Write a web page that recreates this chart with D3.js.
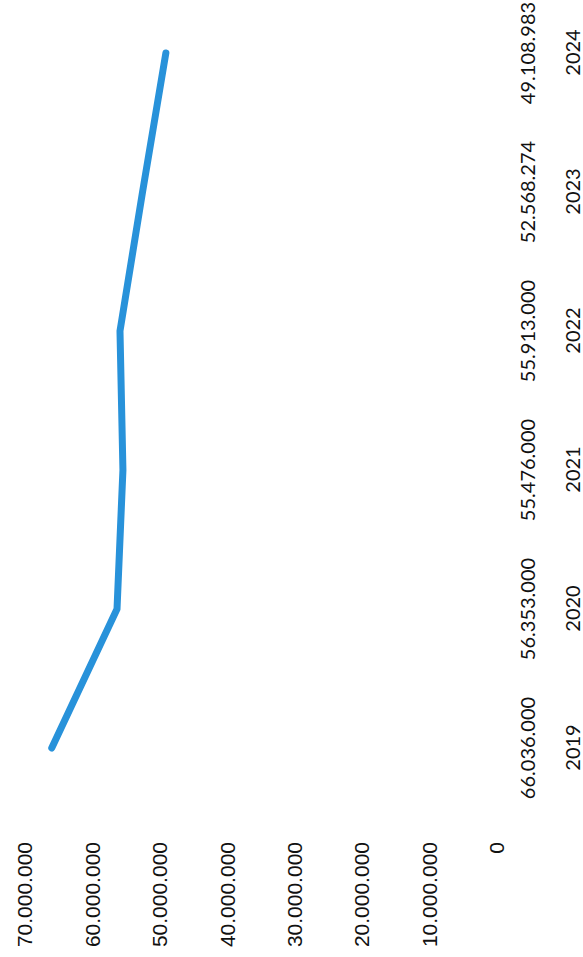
<!DOCTYPE html>
<html><head><meta charset="utf-8">
<script src="https://cdn.jsdelivr.net/npm/d3@7"></script>
<style>html,body{margin:0;padding:0;background:#fff;} svg{display:block;}</style>
</head><body>
<script>
const years = ["2019","2020","2021","2022","2023","2024"];
const values = [66036000, 56353000, 55476000, 55913000, 52568274, 49108983];
const valueLabels = ["66.036.000","56.353.000","55.476.000","55.913.000","52.568.274","49.108.983"];
const yTicks = [0, 10000000, 20000000, 30000000, 40000000, 50000000, 60000000, 70000000];

const W = 583, H = 957;
const locale = d3.formatLocale({decimal: ",", thousands: ".", grouping: [3], currency: ["", ""]});
const fmt = locale.format(",d");

const svg = d3.select("body").append("svg").attr("width", W).attr("height", H)
  .style("background", "#fff");
// chart drawn in normal orientation, then rotated -90deg as in the reference
const g = svg.append("g").attr("transform", `translate(0,${H}) rotate(-90)`);

const x = d3.scalePoint().domain(years).range([209, 904]);
const y = d3.scaleLinear().domain([0, 70000000]).range([497, 25]);

// value axis
const ya = g.append("g").attr("transform", "translate(115,0)")
  .call(d3.axisLeft(y).tickValues(yTicks).tickFormat(fmt).tickSize(0).tickPadding(0));
ya.select(".domain").remove();
ya.selectAll("text").attr("font-family", "'Liberation Sans', Arial, sans-serif")
  .attr("font-size", 21).attr("fill", "#111");

// line
const data = years.map((yr, i) => ({year: yr, value: values[i]}));
g.append("path").datum(data)
  .attr("fill", "none").attr("stroke", "#2892da").attr("stroke-width", 7)
  .attr("stroke-linejoin", "round").attr("stroke-linecap", "round")
  .attr("d", d3.line().x(d => x(d.year)).y(d => y(d.value)));

// data label row
g.append("g").selectAll("text").data(data).join("text")
  .attr("x", d => x(d.year)).attr("y", 535)
  .attr("text-anchor", "middle")
  .attr("font-family", "Lato, 'Open Sans', sans-serif").attr("font-size", 20)
  .attr("fill", "#111")
  .text((d, i) => valueLabels[i]);

// category axis
const xa = g.append("g").attr("transform", "translate(0,580)")
  .call(d3.axisBottom(x).tickSize(0).tickPadding(0));
xa.select(".domain").remove();
xa.selectAll("text").attr("y", 0).attr("dy", 0)
  .attr("font-family", "Lato, 'Open Sans', sans-serif").attr("font-size", 20)
  .attr("fill", "#111");
</script>
</body></html>
